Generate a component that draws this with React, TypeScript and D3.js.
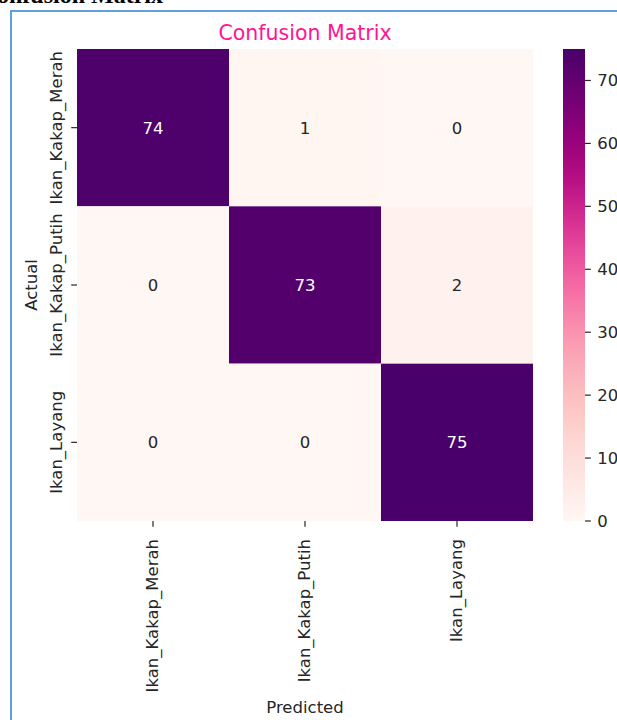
import React from "react";
import * as d3 from "d3";

const classes = ["Ikan_Kakap_Merah", "Ikan_Kakap_Putih", "Ikan_Layang"];
const matrix: number[][] = [
  [74, 1, 0],
  [0, 73, 2],
  [0, 0, 75],
];
const colorbarTicks = [0, 10, 20, 30, 40, 50, 60, 70];
const title = "Confusion Matrix";
const xLabel = "Predicted";
const yLabel = "Actual";

const W = 617;
const H = 720;
const FS = 16.5;
const left = 77, right = 533, top = 49, bottom = 521;
const cbLeft = 563, cbRight = 585;
const tickLen = 5.8;
const tickColor = "#262626";
const font = "DejaVu Sans, sans-serif";

export default function App() {
  const x = d3.scaleBand<string>().domain(classes).range([left, right]).padding(0);
  const y = d3.scaleBand<string>().domain(classes).range([top, bottom]).padding(0);
  const flat = matrix.flat();
  const vmin = d3.min(flat) as number;
  const vmax = d3.max(flat) as number;
  const color = d3.scaleSequential(d3.interpolateRdPu).domain([vmin, vmax]);
  const cbY = d3.scaleLinear().domain([vmin, vmax]).range([bottom, top]);
  const stops = d3.range(0, 1.0001, 1 / 64);

  const cells: { r: number; c: number; v: number }[] = [];
  matrix.forEach((row, r) => row.forEach((v, c) => cells.push({ r, c, v })));

  return (
    <svg
      width={W}
      height={H}
      style={{ position: "absolute", left: 0, top: 0, background: "#fff" }}
      fontFamily={font}
    >
      <defs>
        <linearGradient id="cbgrad" x1="0" y1="1" x2="0" y2="0">
          {stops.map((t, i) => (
            <stop key={i} offset={t} stopColor={color(vmin + t * (vmax - vmin))} />
          ))}
        </linearGradient>
      </defs>
      <rect x={0} y={0} width={W} height={H} fill="#fff" />
      {/* page heading cut off at top */}
      <text
        x={163}
        y={2.5}
        textAnchor="end"
        fontFamily="Liberation Serif, serif"
        fontWeight="bold"
        fontSize={24}
        fill="#000"
      >
        {title}
      </text>
      {/* blue frame */}
      <line x1={11} y1={10} x2={11} y2={H} stroke="#62a0db" strokeWidth={2} />
      <line x1={10} y1={11} x2={W} y2={11} stroke="#62a0db" strokeWidth={2} />

      {/* cells */}
      {cells.map((d, i) => (
        <g key={i}>
          <rect
            x={x(classes[d.c])}
            y={y(classes[d.r])}
            width={x.bandwidth()}
            height={y.bandwidth()}
            fill={color(d.v)}
          />
          <text
            x={(x(classes[d.c]) as number) + x.bandwidth() / 2}
            y={(y(classes[d.r]) as number) + y.bandwidth() / 2}
            dy="0.36em"
            textAnchor="middle"
            fontSize={FS}
            fill={d.v / vmax > 0.5 ? "#ffffff" : tickColor}
          >
            {d.v}
          </text>
        </g>
      ))}

      {/* x ticks */}
      {classes.map((c, i) => {
        const cx = (x(c) as number) + x.bandwidth() / 2;
        return (
          <g key={"xt" + i}>
            <line x1={cx} x2={cx} y1={bottom} y2={bottom + tickLen} stroke={tickColor} strokeWidth={1.2} />
            <text
              transform={`translate(${cx + 4.5},${bottom + 18}) rotate(-90)`}
              textAnchor="end"
              fontSize={FS}
              fill={tickColor}
            >
              {c}
            </text>
          </g>
        );
      })}

      {/* y ticks */}
      {classes.map((c, i) => {
        const cy = (y(c) as number) + y.bandwidth() / 2;
        return (
          <g key={"yt" + i}>
            <line x1={left - tickLen} x2={left} y1={cy} y2={cy} stroke={tickColor} strokeWidth={1.2} />
            <text
              transform={`translate(${62},${cy}) rotate(-90)`}
              textAnchor="middle"
              fontSize={FS}
              fill={tickColor}
            >
              {c}
            </text>
          </g>
        );
      })}

      {/* axis labels */}
      <text x={(left + right) / 2} y={713} textAnchor="middle" fontSize={FS} fill={tickColor}>
        {xLabel}
      </text>
      <text
        transform={`translate(${37},${(top + bottom) / 2}) rotate(-90)`}
        textAnchor="middle"
        fontSize={FS}
        fill={tickColor}
      >
        {yLabel}
      </text>

      {/* title */}
      <text x={(left + right) / 2} y={40} textAnchor="middle" fontSize={20.5} fill="#ff1493">
        {title}
      </text>

      {/* colorbar */}
      <rect x={cbLeft} y={top} width={cbRight - cbLeft} height={bottom - top} fill="url(#cbgrad)" />
      {colorbarTicks.map((t, i) => (
        <g key={"cb" + i}>
          <line x1={cbRight} x2={cbRight + tickLen} y1={cbY(t)} y2={cbY(t)} stroke={tickColor} strokeWidth={1.2} />
          <text x={cbRight + tickLen + 6.5} y={cbY(t)} dy="0.36em" fontSize={FS} fill={tickColor}>
            {t}
          </text>
        </g>
      ))}
    </svg>
  );
}
